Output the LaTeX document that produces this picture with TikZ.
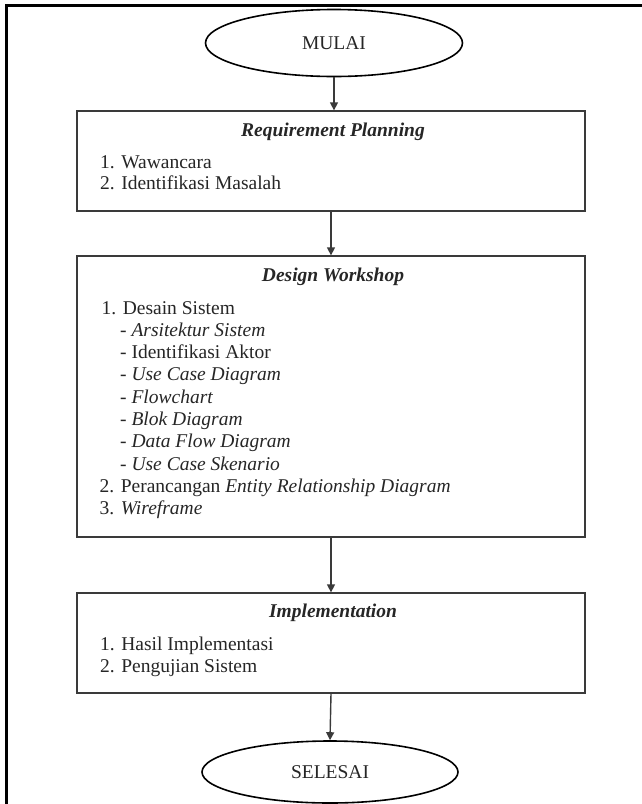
\documentclass[tikz,border=0pt]{standalone}
\usepackage{fontspec}
\setmainfont{Liberation Serif}
\usetikzlibrary{shapes.geometric,arrows.meta}
\definecolor{txt}{HTML}{262626}
\definecolor{boxline}{HTML}{3A3A3A}
\tikzset{
  terminal/.style={draw=black,line width=1.6pt,ellipse,inner sep=0pt,font=\fontsize{19.5}{22}\selectfont,text=txt},
  stagebox/.style={draw=boxline,line width=1.3pt,rectangle,inner sep=0pt,minimum width=508pt},
  title/.style={anchor=base,inner sep=0pt,font=\fontsize{19.5}{22}\selectfont\bfseries\itshape,text=txt},
  item/.style={anchor=base west,inner sep=0pt,font=\fontsize{19.5}{22}\selectfont,text=txt},
  arr/.style={draw=boxline,line width=1.4pt,-{Triangle[width=8pt,length=8pt]}},
  frame/.style={draw=black,line width=3pt}
}
\begin{document}
\begin{tikzpicture}[x=1pt,y=-1pt]
\useasboundingbox (0,0) rectangle (642,804);
\fill[white] (0,0) rectangle (642,804);
% outer frame (only top and left edges visible)
\draw[frame] (6.5,810) -- (6.5,5.5) -- (650,5.5);

% terminals
\node[terminal,minimum width=257pt,minimum height=67pt] (mulai) at (334,43) {MULAI};
\node[terminal,minimum width=256pt,minimum height=62pt] (selesai) at (330,772) {SELESAI};

% stage boxes
\node[stagebox,minimum height=100pt] (rp) at (331,161) {};
\node[stagebox,minimum height=281pt] (dw) at (331,396.5) {};
\node[stagebox,minimum height=100pt] (im) at (331,643) {};

% Requirement Planning
\node[title] (rpt) at (333,136) {Requirement Planning};
\node[item] (rp1) at (100,168) {1. Wawancara};
\node[item] (rp2) at (100,189) {2. Identifikasi Masalah};

% Design Workshop
\node[title] (dwt) at (333,281) {Design Workshop};
\node[item] (dw1) at (101.5,314) {1. Desain Sistem};
\node[item] (dw1a) at (120,336.3) {- \textit{Arsitektur Sistem}};
\node[item] (dw1b) at (120,358.6) {- Identifikasi Aktor};
\node[item] (dw1c) at (120,380.9) {- \textit{Use Case Diagram}};
\node[item] (dw1d) at (120,403.2) {- \textit{Flowchart}};
\node[item] (dw1e) at (120,425.5) {- \textit{Blok Diagram}};
\node[item] (dw1f) at (120,447.8) {- \textit{Data Flow Diagram}};
\node[item] (dw1g) at (120,470.1) {- \textit{Use Case Skenario}};
\node[item] (dw2) at (99.5,492.4) {2. Perancangan \textit{Entity Relationship Diagram}};
\node[item] (dw3) at (99.5,514.7) {3. \textit{Wireframe}};

% Implementation
\node[title] (imt) at (333,617) {Implementation};
\node[item] (im1) at (100,650.5) {1. Hasil Implementasi};
\node[item] (im2) at (100,672.5) {2. Pengujian Sistem};

% connectors
\draw[arr] (mulai.south) -- (mulai.south |- rp.north);
\draw[arr] (rp.south) -- (dw.north);
\draw[arr] (dw.south) -- (im.north);
\draw[arr] (im.south) -- (selesai.north);
\end{tikzpicture}
\end{document}
